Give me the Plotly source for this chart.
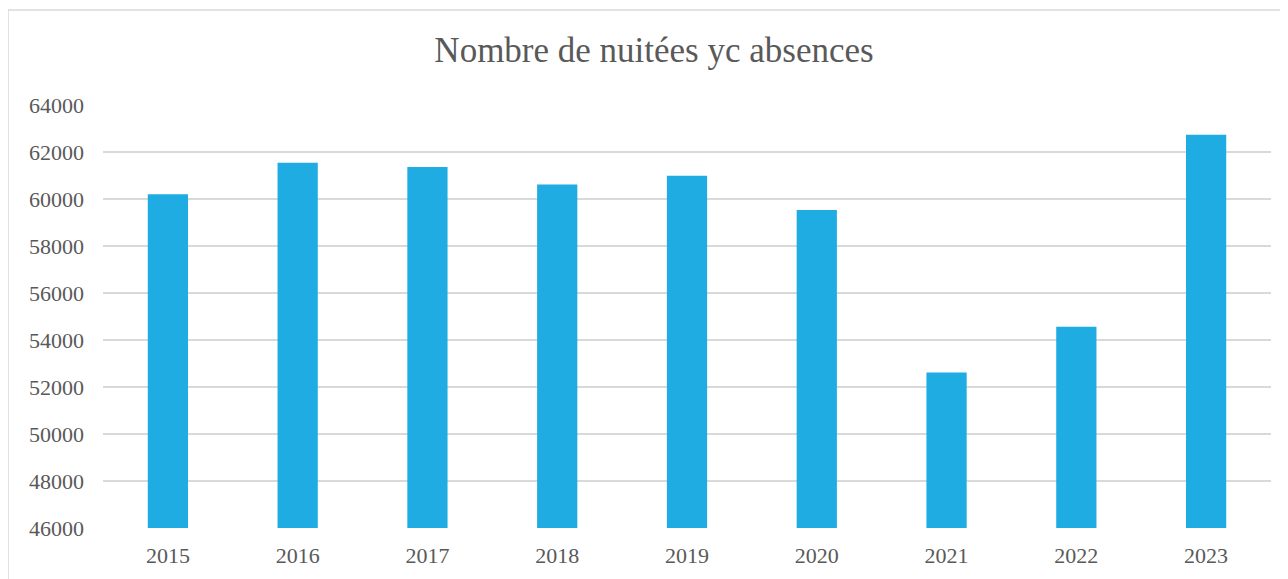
import plotly.graph_objects as go

years = ["2015", "2016", "2017", "2018", "2019", "2020", "2021", "2022", "2023"]
nuitees = [60200, 61545, 61360, 60620, 60990, 59530, 52615, 54560, 62735]
y_ticks = [46000, 48000, 50000, 52000, 54000, 56000, 58000, 60000, 62000, 64000]

FONT = "Liberation Serif"
GRAY = "#595959"

# page content is offset by the 8px body margin
OFF = 8
W, H = 1280, 571
L, T = 103 - OFF, 105 - OFF
R = 1288 - 1271
B = 579 - 528
pw, ph = W - L - R, H - T - B

def px_x(x):
    return (x - OFF - L) / pw

def px_y(y):
    return (H - B - (y - OFF)) / ph

fig = go.Figure(go.Bar(
    x=years, y=nuitees,
    marker=dict(color="#1EACE3", line=dict(width=0)),
))

fig.update_layout(
    width=W, height=H,
    margin=dict(l=L, r=R, t=T, b=B),
    paper_bgcolor="white", plot_bgcolor="white",
    bargap=0.69,
    showlegend=False,
    title=dict(text="Nombre de nuitées yc absences", x=px_x(654), xref="paper", xanchor="center",
               y=1 - (50 - OFF) / H, yanchor="middle",
               font=dict(family=FONT, size=35, color=GRAY)),
    xaxis=dict(showgrid=False, showline=False, ticks="",
               tickfont=dict(family=FONT, size=22, color=GRAY), ticklabelstandoff=12),
    yaxis=dict(range=[46000, 64000], tickvals=y_ticks, tickformat="d", showgrid=True,
               gridcolor="#D9D9D9", gridwidth=1.5, zeroline=False, showline=False,
               tickfont=dict(family=FONT, size=22, color=GRAY), ticklabelstandoff=18),
    shapes=[dict(type="rect", xref="paper", yref="paper",
                 x0=px_x(8), x1=px_x(1310), y0=px_y(600), y1=px_y(10),
                 line=dict(color="#D9D9D9", width=1.5), layer="below")],
)

fig.write_html("out.html")
